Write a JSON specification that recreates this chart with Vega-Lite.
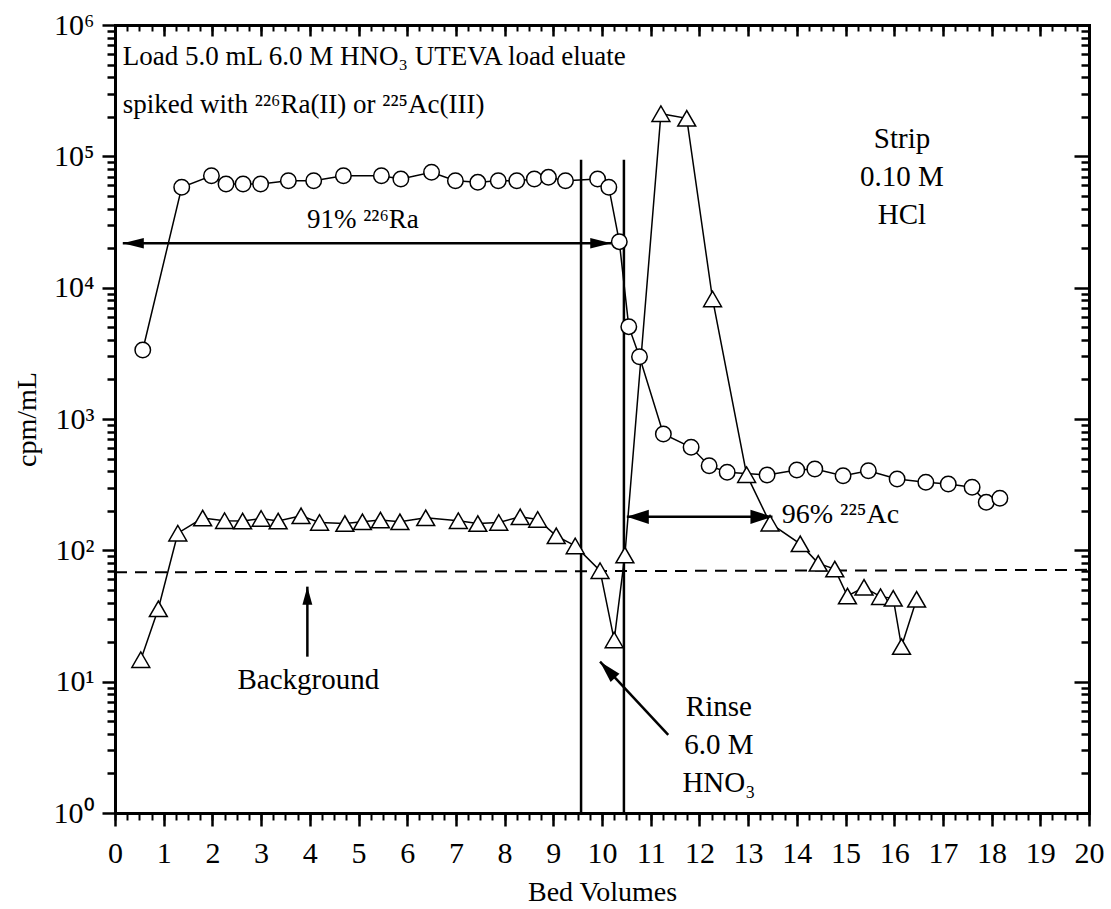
{
  "$schema": "https://vega.github.io/schema/vega-lite/v6.json",
  "width": 974,
  "height": 788,
  "autosize": {"type": "none"},
  "padding": {"left": 115, "top": 25, "right": 22, "bottom": 96},
  "background": "white",
  "config": {
    "view": {"stroke": null},
    "font": "Liberation Serif",
    "axis": {
      "grid": false,
      "domainColor": "black",
      "tickColor": "black",
      "labelColor": "black",
      "titleColor": "black",
      "labelFont": "Liberation Serif",
      "titleFont": "Liberation Serif",
      "titleFontWeight": "normal",
      "labelFlush": false,
      "labelOverlap": false,
      "labelBound": false,
      "domainCap": "square"
    }
  },
  "datasets": {
    "ra": [
      {"bv": 0.57, "cpm": 3350}, {"bv": 1.37, "cpm": 58100}, {"bv": 1.98, "cpm": 71200},
      {"bv": 2.28, "cpm": 61600}, {"bv": 2.63, "cpm": 61600}, {"bv": 2.99, "cpm": 61600},
      {"bv": 3.56, "cpm": 65200}, {"bv": 4.08, "cpm": 65200}, {"bv": 4.69, "cpm": 71200},
      {"bv": 5.47, "cpm": 71200}, {"bv": 5.87, "cpm": 67200}, {"bv": 6.50, "cpm": 75600},
      {"bv": 6.99, "cpm": 65200}, {"bv": 7.45, "cpm": 63400}, {"bv": 7.87, "cpm": 65200},
      {"bv": 8.25, "cpm": 65200}, {"bv": 8.61, "cpm": 67200}, {"bv": 8.90, "cpm": 69200},
      {"bv": 9.25, "cpm": 65200}, {"bv": 9.91, "cpm": 67200}, {"bv": 10.14, "cpm": 58100},
      {"bv": 10.355, "cpm": 22400}, {"bv": 10.55, "cpm": 5050}, {"bv": 10.77, "cpm": 2980},
      {"bv": 11.26, "cpm": 769}, {"bv": 11.83, "cpm": 609}, {"bv": 12.20, "cpm": 441},
      {"bv": 12.57, "cpm": 393}, {"bv": 13.39, "cpm": 375}, {"bv": 14.00, "cpm": 409},
      {"bv": 14.37, "cpm": 416}, {"bv": 14.95, "cpm": 370}, {"bv": 15.47, "cpm": 404},
      {"bv": 16.06, "cpm": 349}, {"bv": 16.65, "cpm": 330}, {"bv": 17.11, "cpm": 320},
      {"bv": 17.60, "cpm": 302}, {"bv": 17.89, "cpm": 232}, {"bv": 18.17, "cpm": 249}
    ],
    "ac": [
      {"bv": 0.53, "cpm": 14.7}, {"bv": 0.89, "cpm": 35.9}, {"bv": 1.29, "cpm": 135},
      {"bv": 1.80, "cpm": 176}, {"bv": 2.25, "cpm": 168}, {"bv": 2.62, "cpm": 167},
      {"bv": 3.00, "cpm": 175}, {"bv": 3.35, "cpm": 167}, {"bv": 3.82, "cpm": 183},
      {"bv": 4.20, "cpm": 163}, {"bv": 4.72, "cpm": 160}, {"bv": 5.08, "cpm": 165},
      {"bv": 5.45, "cpm": 170}, {"bv": 5.85, "cpm": 165}, {"bv": 6.38, "cpm": 177},
      {"bv": 7.05, "cpm": 168}, {"bv": 7.45, "cpm": 160}, {"bv": 7.88, "cpm": 163},
      {"bv": 8.32, "cpm": 180}, {"bv": 8.68, "cpm": 172}, {"bv": 9.06, "cpm": 129},
      {"bv": 9.45, "cpm": 108}, {"bv": 9.96, "cpm": 70}, {"bv": 10.25, "cpm": 20.8},
      {"bv": 10.47, "cpm": 92}, {"bv": 11.21, "cpm": 211000}, {"bv": 11.74, "cpm": 194700},
      {"bv": 12.27, "cpm": 8200}, {"bv": 12.97, "cpm": 377}, {"bv": 13.45, "cpm": 161},
      {"bv": 14.07, "cpm": 112}, {"bv": 14.44, "cpm": 79.6}, {"bv": 14.78, "cpm": 72},
      {"bv": 15.04, "cpm": 44.9}, {"bv": 15.38, "cpm": 52.3}, {"bv": 15.72, "cpm": 44.4},
      {"bv": 15.98, "cpm": 43.1}, {"bv": 16.15, "cpm": 18.5}, {"bv": 16.46, "cpm": 42.4}
    ],
    "bg": [{"bv": 0, "cpm": 68}, {"bv": 20, "cpm": 71}],
    "vlines": [{"bv": 9.57, "top": 94000, "bottom": 1}, {"bv": 10.45, "top": 94000, "bottom": 1}],
    "shafts": [
      {"x1": 0.16, "y1": 21800, "x2": 10.19, "y2": 21800},
      {"x1": 10.51, "y1": 180, "x2": 13.50, "y2": 180},
      {"x1": 3.95, "y1": 15.5, "x2": 3.95, "y2": 52.9},
      {"x1": 11.36, "y1": 3.93, "x2": 9.96, "y2": 14.2}
    ],
    "headRaLeft": [{"bv": 0.16, "cpm": 21800}],
    "headRaRight": [{"bv": 10.19, "cpm": 21800}],
    "headAcLeft": [{"bv": 10.51, "cpm": 180}],
    "headAcRight": [{"bv": 13.50, "cpm": 180}],
    "headUp": [{"bv": 3.95, "cpm": 52.9}],
    "headRinse": [{"bv": 9.96, "cpm": 14.2}],
    "txtLoad": [
      {"bv": 0.16, "cpm": 496000, "t": "Load 5.0 mL 6.0 M HNO₃ UTEVA load eluate"},
      {"bv": 0.16, "cpm": 213800, "t": "spiked with  ²²⁶Ra(II) or ²²⁵Ac(III)"}
    ],
    "txtRa": [{"bv": 5.09, "cpm": 28300, "t": "91% ²²⁶Ra"}],
    "txtStrip": [
      {"bv": 16.16, "cpm": 115200, "t": "Strip"},
      {"bv": 16.16, "cpm": 59400, "t": "0.10 M"},
      {"bv": 16.16, "cpm": 30500, "t": "HCl"}
    ],
    "txtAc": [{"bv": 13.69, "cpm": 160.7, "t": "96% ²²⁵Ac"}],
    "txtBg": [{"bv": 3.97, "cpm": 8.75, "t": "Background"}],
    "txtRinse": [
      {"bv": 12.40, "cpm": 5.5, "t": "Rinse"},
      {"bv": 12.40, "cpm": 2.8, "t": "6.0 M"},
      {"bv": 12.40, "cpm": 1.45, "t": "HNO₃"}
    ]
  },
  "layer": [
    {
      "data": {"name": "bg"},
      "mark": {"type": "line", "color": "black", "strokeWidth": 2, "strokeDash": [12, 8]},
      "encoding": {
        "x": {"field": "bv", "type": "quantitative", "scale": {"domain": [0, 20], "nice": false, "zero": false},
          "axis": {"orient": "bottom", "values": [0,0.25,0.5,0.75,1,1.25,1.5,1.75,2,2.25,2.5,2.75,3,3.25,3.5,3.75,4,4.25,4.5,4.75,5,5.25,5.5,5.75,6,6.25,6.5,6.75,7,7.25,7.5,7.75,8,8.25,8.5,8.75,9,9.25,9.5,9.75,10,10.25,10.5,10.75,11,11.25,11.5,11.75,12,12.25,12.5,12.75,13,13.25,13.5,13.75,14,14.25,14.5,14.75,15,15.25,15.5,15.75,16,16.25,16.5,16.75,17,17.25,17.5,17.75,18,18.25,18.5,18.75,19,19.25,19.5,19.75,20],
            "tickSize": 7, "tickWidth": 2, "labels": false, "domain": false, "title": null}},
        "y": {"field": "cpm", "type": "quantitative", "scale": {"type": "log", "domain": [1, 1000000], "nice": false},
          "axis": {"orient": "left", "values": [2,3,4,5,6,7,8,9,20,30,40,50,60,70,80,90,200,300,400,500,600,700,800,900,2000,3000,4000,5000,6000,7000,8000,9000,20000,30000,40000,50000,60000,70000,80000,90000,200000,300000,400000,500000,600000,700000,800000,900000],
            "tickSize": 8, "tickWidth": 2.5, "labels": false, "domain": false, "title": null}}
      }
    },
    {
      "data": {"name": "vlines"},
      "mark": {"type": "rule", "color": "black", "strokeWidth": 2.5},
      "encoding": {
        "x": {"field": "bv", "type": "quantitative",
          "axis": {"orient": "top", "values": [0,0.25,0.5,0.75,1,1.25,1.5,1.75,2,2.25,2.5,2.75,3,3.25,3.5,3.75,4,4.25,4.5,4.75,5,5.25,5.5,5.75,6,6.25,6.5,6.75,7,7.25,7.5,7.75,8,8.25,8.5,8.75,9,9.25,9.5,9.75,10,10.25,10.5,10.75,11,11.25,11.5,11.75,12,12.25,12.5,12.75,13,13.25,13.5,13.75,14,14.25,14.5,14.75,15,15.25,15.5,15.75,16,16.25,16.5,16.75,17,17.25,17.5,17.75,18,18.25,18.5,18.75,19,19.25,19.5,19.75,20],
            "tickSize": -6, "tickWidth": 2, "labels": false, "domain": false, "title": null}},
        "y": {"field": "top", "type": "quantitative",
          "axis": {"orient": "right", "values": [2,3,4,5,6,7,8,9,20,30,40,50,60,70,80,90,200,300,400,500,600,700,800,900,2000,3000,4000,5000,6000,7000,8000,9000,20000,30000,40000,50000,60000,70000,80000,90000,200000,300000,400000,500000,600000,700000,800000,900000],
            "tickSize": -8, "tickWidth": 2.5, "labels": false, "domain": false, "title": null}},
        "y2": {"field": "bottom"}
      }
    },
    {
      "data": {"name": "ra"},
      "mark": {"type": "line", "color": "black", "strokeWidth": 1.5},
      "encoding": {
        "x": {"field": "bv", "type": "quantitative",
          "axis": {"orient": "bottom", "values": [0,1,2,3,4,5,6,7,8,9,10,11,12,13,14,15,16,17,18,19,20],
            "tickSize": 13, "tickWidth": 2.5, "domainWidth": 3, "labelFontSize": 30, "labelPadding": 12,
            "title": "Bed Volumes", "titleFontSize": 28, "titlePadding": 10}},
        "y": {"field": "cpm", "type": "quantitative",
          "axis": {"orient": "left", "values": [1,10,100,1000,10000,100000,1000000],
            "labelExpr": "datum.value >= 1e6 ? '10⁶' : datum.value >= 1e5 ? '10⁵' : datum.value >= 1e4 ? '10⁴' : datum.value >= 1e3 ? '10³' : datum.value >= 100 ? '10²' : datum.value >= 10 ? '10¹' : '10⁰'",
            "tickSize": 13, "tickWidth": 2.5, "domainWidth": 3, "labelFontSize": 30, "labelPadding": 8,
            "title": "cpm/mL", "titleFontSize": 28, "titlePadding": 12}}
      }
    },
    {
      "data": {"name": "ac"},
      "mark": {"type": "line", "color": "black", "strokeWidth": 1.5},
      "encoding": {
        "x": {"field": "bv", "type": "quantitative",
          "axis": {"orient": "top", "values": [0,1,2,3,4,5,6,7,8,9,10,11,12,13,14,15,16,17,18,19,20],
            "tickSize": -11, "tickWidth": 2.5, "domainWidth": 3, "labels": false, "title": null}},
        "y": {"field": "cpm", "type": "quantitative",
          "axis": {"orient": "right", "values": [1,10,100,1000,10000,100000,1000000],
            "tickSize": -15, "tickWidth": 2.5, "domainWidth": 3, "labels": false, "title": null}}
      }
    },
    {
      "data": {"name": "shafts"},
      "mark": {"type": "rule", "color": "black", "strokeWidth": 2.5},
      "encoding": {
        "x": {"field": "x1", "type": "quantitative", "axis": null},
        "x2": {"field": "x2"},
        "y": {"field": "y1", "type": "quantitative", "axis": null},
        "y2": {"field": "y2"}
      }
    },
    {
      "data": {"name": "ra"},
      "mark": {"type": "point", "shape": "circle", "size": 240, "filled": false, "fill": "white", "fillOpacity": 1, "stroke": "black", "strokeWidth": 1.5, "opacity": 1},
      "encoding": {
        "x": {"field": "bv", "type": "quantitative", "axis": null},
        "y": {"field": "cpm", "type": "quantitative", "axis": null}
      }
    },
    {
      "data": {"name": "ac"},
      "mark": {"type": "point", "shape": "triangle-up", "size": 320, "filled": false, "fill": "white", "fillOpacity": 1, "stroke": "black", "strokeWidth": 1.5, "opacity": 1},
      "encoding": {
        "x": {"field": "bv", "type": "quantitative", "axis": null},
        "y": {"field": "cpm", "type": "quantitative", "axis": null}
      }
    },
    {
      "data": {"name": "headRaLeft"},
      "mark": {"type": "point", "shape": "M0,0L2,-0.5L2,0.5Z", "size": 441, "filled": true, "color": "black", "opacity": 1, "angle": 0},
      "encoding": {"x": {"field": "bv", "type": "quantitative", "axis": null}, "y": {"field": "cpm", "type": "quantitative", "axis": null}}
    },
    {
      "data": {"name": "headRaRight"},
      "mark": {"type": "point", "shape": "M0,0L2,-0.5L2,0.5Z", "size": 441, "filled": true, "color": "black", "opacity": 1, "angle": 180},
      "encoding": {"x": {"field": "bv", "type": "quantitative", "axis": null}, "y": {"field": "cpm", "type": "quantitative", "axis": null}}
    },
    {
      "data": {"name": "headAcLeft"},
      "mark": {"type": "point", "shape": "M0,0L2,-0.65L2,0.65Z", "size": 484, "filled": true, "color": "black", "opacity": 1, "angle": 0},
      "encoding": {"x": {"field": "bv", "type": "quantitative", "axis": null}, "y": {"field": "cpm", "type": "quantitative", "axis": null}}
    },
    {
      "data": {"name": "headAcRight"},
      "mark": {"type": "point", "shape": "M0,0L2,-0.65L2,0.65Z", "size": 484, "filled": true, "color": "black", "opacity": 1, "angle": 180},
      "encoding": {"x": {"field": "bv", "type": "quantitative", "axis": null}, "y": {"field": "cpm", "type": "quantitative", "axis": null}}
    },
    {
      "data": {"name": "headUp"},
      "mark": {"type": "point", "shape": "M0,0L2,-0.55L2,0.55Z", "size": 324, "filled": true, "color": "black", "opacity": 1, "angle": 90},
      "encoding": {"x": {"field": "bv", "type": "quantitative", "axis": null}, "y": {"field": "cpm", "type": "quantitative", "axis": null}}
    },
    {
      "data": {"name": "headRinse"},
      "mark": {"type": "point", "shape": "M0,0L2,-0.55L2,0.55Z", "size": 484, "filled": true, "color": "black", "opacity": 1, "angle": 47},
      "encoding": {"x": {"field": "bv", "type": "quantitative", "axis": null}, "y": {"field": "cpm", "type": "quantitative", "axis": null}}
    },
    {
      "data": {"name": "txtLoad"},
      "mark": {"type": "text", "align": "left", "baseline": "alphabetic", "fontSize": 27, "font": "Liberation Serif", "color": "black"},
      "encoding": {"x": {"field": "bv", "type": "quantitative", "axis": null}, "y": {"field": "cpm", "type": "quantitative", "axis": null}, "text": {"field": "t"}}
    },
    {
      "data": {"name": "txtRa"},
      "mark": {"type": "text", "align": "center", "baseline": "alphabetic", "fontSize": 27, "font": "Liberation Serif", "color": "black"},
      "encoding": {"x": {"field": "bv", "type": "quantitative", "axis": null}, "y": {"field": "cpm", "type": "quantitative", "axis": null}, "text": {"field": "t"}}
    },
    {
      "data": {"name": "txtStrip"},
      "mark": {"type": "text", "align": "center", "baseline": "alphabetic", "fontSize": 29, "font": "Liberation Serif", "color": "black"},
      "encoding": {"x": {"field": "bv", "type": "quantitative", "axis": null}, "y": {"field": "cpm", "type": "quantitative", "axis": null}, "text": {"field": "t"}}
    },
    {
      "data": {"name": "txtAc"},
      "mark": {"type": "text", "align": "left", "baseline": "alphabetic", "fontSize": 28, "font": "Liberation Serif", "color": "black"},
      "encoding": {"x": {"field": "bv", "type": "quantitative", "axis": null}, "y": {"field": "cpm", "type": "quantitative", "axis": null}, "text": {"field": "t"}}
    },
    {
      "data": {"name": "txtBg"},
      "mark": {"type": "text", "align": "center", "baseline": "alphabetic", "fontSize": 29, "font": "Liberation Serif", "color": "black"},
      "encoding": {"x": {"field": "bv", "type": "quantitative", "axis": null}, "y": {"field": "cpm", "type": "quantitative", "axis": null}, "text": {"field": "t"}}
    },
    {
      "data": {"name": "txtRinse"},
      "mark": {"type": "text", "align": "center", "baseline": "alphabetic", "fontSize": 29, "font": "Liberation Serif", "color": "black"},
      "encoding": {"x": {"field": "bv", "type": "quantitative", "axis": null}, "y": {"field": "cpm", "type": "quantitative", "axis": null}, "text": {"field": "t"}}
    }
  ],
  "resolve": {"axis": {"x": "independent", "y": "independent"}}
}
